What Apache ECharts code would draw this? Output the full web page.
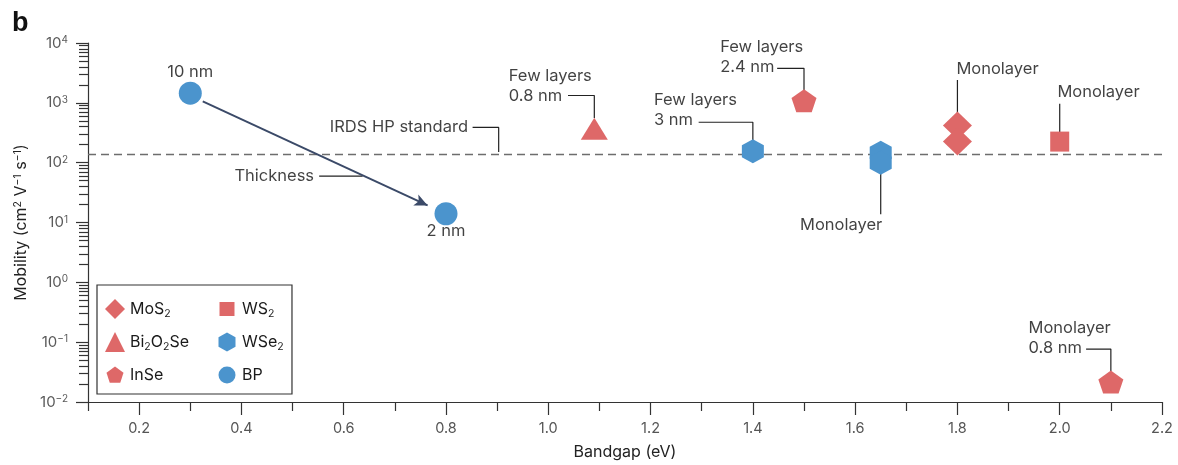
<!DOCTYPE html>
<html>
<head>
<meta charset="utf-8">
<script src="https://cdn.jsdelivr.net/npm/echarts@6/dist/echarts.min.js"></script>
<style>
html,body{margin:0;padding:0;background:#fff;}
#chart{width:1178px;height:465px;}
</style>
</head>
<body>
<div id="chart"></div>
<script>
// ---------- data ----------
const xMajorTicks = [0.2, 0.4, 0.6, 0.8, 1.0, 1.2, 1.4, 1.6, 1.8, 2.0, 2.2];
const xMinorTicks = [0.1, 0.3, 0.5, 0.7, 0.9, 1.1, 1.3, 1.5, 1.7, 1.9, 2.1];
const yDecadeTicks = [0.01, 0.1, 1, 10, 100, 1000, 10000];
const yDecadeExponents = ['−2', '−1', '0', '1', '2', '3', '4'];
const yMinorMultipliers = [2, 3, 4, 5, 6, 7, 8, 9];

const mos2 = [[1.8, 420], [1.8, 225]];
const ws2 = [[2.0, 225]];
const bi2o2se = [[1.09, 370]];
const wse2 = [[1.4, 155], [1.65, 146], [1.65, 100]];
const inse = [[1.5, 1080], [2.1, 0.0215]];
const bp = [[0.3, 1450], [0.8, 14]];
const irdsStandard = 138;

// annotation texts anchored in data coordinates
const annotations = [
  { text: '10 nm', at: [0.3, 3236], align: 'center' },
  { text: '2 nm', at: [0.8, 7.08], align: 'center' },
  { text: 'IRDS HP standard', at: [0.843, 388], align: 'right' },
  { text: 'Thickness', at: [0.542, 59.7], align: 'right' },
  { text: 'Few layers\n0.8 nm', at: [0.9227, 1897], align: 'left' },
  { text: 'Few layers\n3 nm', at: [1.2065, 746], align: 'left' },
  { text: 'Few layers\n2.4 nm', at: [1.336, 5730], align: 'left' },
  { text: 'Monolayer', at: [1.653, 8.9], align: 'right' },
  { text: 'Monolayer', at: [1.798, 3630], align: 'left' },
  { text: 'Monolayer', at: [1.9955, 1486], align: 'left' },
  { text: 'Monolayer\n0.8 nm', at: [1.939, 0.118], align: 'left' }
];
const leaders = [
  [[0.852, 388], [0.903, 388], [0.903, 151]],
  [[0.552, 59.7], [0.637, 59.7]],
  [[1.0385, 1326], [1.09, 1326], [1.09, 560]],
  [[1.294, 474], [1.4, 474], [1.4, 202]],
  [[1.4475, 3770], [1.5, 3770], [1.5, 1550]],
  [[1.65, 64.5], [1.65, 13.7]],
  [[1.8, 2410], [1.8, 678]],
  [[2.0, 966], [2.0, 286]],
  [[2.0516, 0.0766], [2.1, 0.0766], [2.1, 0.0327]]
];
const thicknessArrow = [[0.3244, 1054], [0.764, 19.3]];

// ---------- styles ----------
const RED = '#de6868';
const BLUE = '#4b94cd';
const FONT = 'Inter';
const hexPath = 'path://M10,0L20,5.77L20,17.32L10,23.09L0,17.32L0,5.77Z';
const pentPath = 'path://M12,0L24,8.7L19.4,22.8L4.6,22.8L0,8.7Z';

const yMinorTicks = [];
yDecadeTicks.slice(0, -1).forEach(d => yMinorMultipliers.forEach(m => yMinorTicks.push(+(d * m).toPrecision(3))));

const legendRich = {
  MoS2: '{t|MoS}{s|2}',
  WS2: '{t|WS}{s|2}',
  Bi2O2Se: '{t|Bi}{s|2}{t|O}{s|2}{t|Se}',
  WSe2: '{t|WSe}{s|2}',
  InSe: '{t|InSe}',
  BP: '{t|BP}'
};
const richText = {
  t: { fontFamily: FONT, fontSize: 16, color: '#1a1a1a', lineHeight: 20 },
  s: { fontFamily: FONT, fontSize: 10.5, color: '#1a1a1a', lineHeight: 10, verticalAlign: 'bottom' }
};

const chart = echarts.init(document.getElementById('chart'), null, { renderer: 'canvas' });

const axisColor = '#333';

const markerSeries = [
  { name: 'MoS2', data: mos2, symbol: 'diamond', symbolSize: [29, 28], color: RED },
  { name: 'WS2', data: ws2, symbol: 'rect', symbolSize: [19, 20], color: RED },
  { name: 'Bi2O2Se', data: bi2o2se, symbol: 'triangle', symbolSize: [27, 22], color: RED },
  { name: 'WSe2', data: wse2, symbol: hexPath, symbolSize: [22, 24], color: BLUE },
  { name: 'InSe', data: inse, symbol: pentPath, symbolSize: [25, 23], color: RED },
  { name: 'BP', data: bp, symbol: 'circle', symbolSize: 23, color: BLUE }
].map(s => ({
  type: 'scatter',
  name: s.name,
  data: s.data,
  symbol: s.symbol,
  symbolSize: s.symbolSize,
  symbolKeepAspect: false,
  itemStyle: { color: s.color, opacity: 1 },
  z: 5,
  silent: true
}));

// BP series carries the thickness arrow
markerSeries[5].markLine = {
  silent: true,
  symbol: ['none', 'arrow'],
  symbolSize: [9, 13],
  label: { show: false },
  lineStyle: { color: '#3b4a68', width: 2, type: 'solid' },
  data: [[{ coord: thicknessArrow[0] }, { coord: thicknessArrow[1] }]],
  animation: false
};
// IRDS dashed line
markerSeries[0].markLine = {
  silent: true,
  symbol: 'none',
  label: { show: false },
  lineStyle: { color: '#6d6d6d', width: 1.3, type: [8, 5] },
  data: [{ yAxis: irdsStandard }],
  animation: false
};

const leaderSeries = leaders.map((pts, i) => ({
  type: 'line',
  name: '_leader' + i,
  data: pts,
  symbol: 'none',
  lineStyle: { color: '#222', width: 1.2 },
  silent: true,
  z: 3
}));

const annotationSeries = {
  type: 'scatter',
  name: '_annotations',
  symbolSize: 0,
  silent: true,
  z: 6,
  itemStyle: { color: 'transparent' },
  data: annotations.map(a => ({
    value: a.at,
    name: a.text,
    label: { align: a.align }
  })),
  label: {
    show: true,
    position: 'inside',
    verticalAlign: 'middle',
    formatter: p => p.name,
    fontFamily: FONT,
    fontSize: 16.5,
    lineHeight: 20,
    color: '#111'
  }
};

const legendBase = {
  orient: 'vertical',
  itemWidth: 20,
  itemHeight: 20,
  itemGap: 13,
  selectedMode: false,
  formatter: n => legendRich[n],
  textStyle: { rich: richText, fontFamily: FONT, fontSize: 16 }
};

const option = {
  animation: false,
  backgroundColor: '#fff',
  title: {
    text: 'b', left: 7, top: 5,
    textStyle: { fontFamily: 'Liberation Sans', fontSize: 27, fontWeight: 'bold', color: '#111' }
  },
  grid: { left: 88, right: 16, top: 43, bottom: 60, containLabel: false },
  legend: [
    Object.assign({}, legendBase, {
      left: 97, top: 285,
      padding: [14, 103, 9, 8],
      borderColor: '#333', borderWidth: 1.2,
      textStyle: { rich: richText, fontFamily: FONT, fontSize: 16, width: 70 },
      data: [
        { name: 'MoS2' },
        { name: 'Bi2O2Se' },
        { name: 'InSe', icon: 'path://M0,0M20,20M10,1.5L18.5,7.7L15.25,17.7L4.75,17.7L1.5,7.7Z' }
      ]
    }),
    Object.assign({}, legendBase, {
      left: 217, top: 299,
      padding: 0,
      data: [
        { name: 'WS2', icon: 'path://M0,0M20,20M2.5,3h15v14h-15z' },
        { name: 'WSe2', icon: 'path://M0,0M20,20M10,0.5L18.5,5.25L18.5,14.75L10,19.5L1.5,14.75L1.5,5.25Z' },
        { name: 'BP', icon: 'path://M0,0M20,20M18.5,10A8.5,8.5,0,1,1,1.5,10A8.5,8.5,0,1,1,18.5,10z' }
      ]
    })
  ],
  xAxis: [
    {
      type: 'value', min: 0.1, max: 2.2,
      name: 'Bandgap (eV)', nameLocation: 'middle', nameGap: 42,
      nameTextStyle: { fontFamily: FONT, fontSize: 16, color: '#222' },
      axisLine: { show: true, onZero: false, lineStyle: { color: axisColor, width: 1.2 } },
      axisTick: { show: true, length: 13, customValues: xMajorTicks, lineStyle: { color: axisColor, width: 1.2 } },
      axisLabel: {
        show: true, customValues: xMajorTicks, margin: 19,
        formatter: v => v.toFixed(1),
        fontFamily: FONT, fontSize: 14.5, color: '#555'
      },
      splitLine: { show: false }
    },
    {
      type: 'value', min: 0.1, max: 2.2, position: 'bottom',
      axisLine: { show: false },
      axisTick: { show: true, length: 9, customValues: xMinorTicks, lineStyle: { color: axisColor, width: 1.2 } },
      axisLabel: { show: false },
      splitLine: { show: false }
    }
  ],
  yAxis: [
    {
      type: 'log', logBase: 10, min: 0.01, max: 10000,
      name: '{n|Mobility (cm}{p|2}{n| V}{p|−1}{n| s}{p|−1}{n|)}',
      nameLocation: 'middle', nameGap: 46,
      nameTextStyle: {
        rich: {
          n: { fontFamily: FONT, fontSize: 16, color: '#222', lineHeight: 18 },
          p: { fontFamily: FONT, fontSize: 10.5, color: '#222', lineHeight: 10, verticalAlign: 'top' }
        }
      },
      axisLine: { show: true, onZero: false, lineStyle: { color: axisColor, width: 1.2 } },
      axisTick: { show: true, length: 12, customValues: yDecadeTicks, lineStyle: { color: axisColor, width: 1.2 } },
      axisLabel: {
        show: true, customValues: yDecadeTicks, margin: 20,
        formatter: v => {
          const i = yDecadeTicks.findIndex(d => Math.abs(Math.log10(d) - Math.log10(v)) < 1e-6);
          return '{b|10}{p|' + (i >= 0 ? yDecadeExponents[i] : '') + '}';
        },
        rich: {
          b: { fontFamily: FONT, fontSize: 15, color: '#5a5a5a', lineHeight: 16 },
          p: { fontFamily: FONT, fontSize: 10, color: '#5a5a5a', lineHeight: 10, verticalAlign: 'top' }
        }
      },
      splitLine: { show: false }
    },
    {
      type: 'log', logBase: 10, min: 0.01, max: 10000, position: 'left',
      axisLine: { show: false },
      axisTick: { show: true, length: 9, customValues: yMinorTicks, lineStyle: { color: axisColor, width: 1.2 } },
      axisLabel: { show: false },
      splitLine: { show: false }
    }
  ],
  series: [].concat(leaderSeries, markerSeries, [annotationSeries])
};

chart.setOption(option);
</script>
</body>
</html>
